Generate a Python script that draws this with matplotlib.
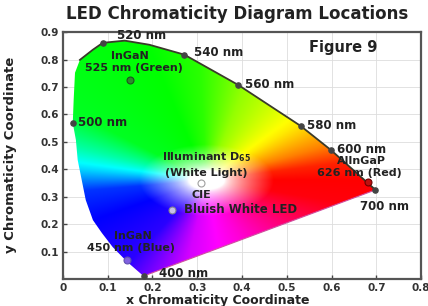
import numpy as np
import matplotlib
matplotlib.use("Agg")
import matplotlib.pyplot as plt
from matplotlib.colors import hsv_to_rgb
from matplotlib.patches import Polygon

plt.rcParams['font.family'] = ['DejaVu Sans']
plt.rcParams['font.weight'] = 'bold'

# spectral locus as it is drawn in the figure
locus_x = [0.180, 0.144, 0.111, 0.087, 0.067, 0.051, 0.042, 0.033, 0.029, 0.022,
           0.024, 0.027, 0.038, 0.067, 0.089, 0.138, 0.193, 0.271, 0.391, 0.531,
           0.598, 0.698]
locus_y = [0.011, 0.062, 0.117, 0.168, 0.215, 0.288, 0.361, 0.434, 0.507, 0.569,
           0.653, 0.752, 0.799, 0.836, 0.861, 0.869, 0.854, 0.818, 0.708, 0.558,
           0.471, 0.325]

# marked wavelengths
wl_labels = ['400 nm', '500 nm', '520 nm', '540 nm', '560 nm', '580 nm', '600 nm', '700 nm']
wl_x = [0.180, 0.022, 0.089, 0.271, 0.391, 0.531, 0.598, 0.698]
wl_y = [0.011, 0.569, 0.861, 0.818, 0.708, 0.558, 0.471, 0.325]
wl_offsets = [(11.5, 2), (3.6, 0), (10, 5), (7, 1.5), (5, 0), (4.5, 0), (4.5, 0), (-11, -12)]

# LED and white point locations
src_names = ['InGaN 525', 'AlInGaP 626', 'InGaN 450', 'D65', 'Bluish White LED']
src_x = [0.149, 0.682, 0.144, 0.309, 0.244]
src_y = [0.726, 0.354, 0.069, 0.350, 0.252]

xticks = [0, 0.1, 0.2, 0.3, 0.4, 0.5, 0.6, 0.7, 0.8]
xtick_labels = ['0', '0.1', '0.2', '0.3', '0.4', '0.5', '0.6', '0.7', '0.8']
yticks = [0.1, 0.2, 0.3, 0.4, 0.5, 0.6, 0.7, 0.8, 0.9]
ytick_labels = ['0.1', '0.2', '0.3', '0.4', '0.5', '0.6', '0.7', '0.8', '0.9']

fig = plt.figure(figsize=(4.28, 3.06), dpi=100)
ax = fig.add_axes([0.147, 0.088, 0.837, 0.807])
ax.set_xlim(0, 0.8)
ax.set_ylim(0, 0.9)

# colour field: hue by angle around the white point, saturation by distance
wx, wy = 0.32, 0.36
gx, gy = np.meshgrid(np.linspace(0, 0.8, 480), np.linspace(0, 0.9, 540))
ang = np.degrees(np.arctan2(gy - wy, gx - wx)) % 360
ang_pts = [0, 12, 25, 45, 76, 92, 105, 140, 158, 172, 188, 210, 240, 262, 290, 320, 345, 360]
hue_pts = [0, 8, 30, 55, 85, 110, 120, 128, 160, 190, 228, 240, 250, 290, 310, 335, 357, 360]
hue = (np.interp(ang, ang_pts, hue_pts) % 360) / 360
r = np.hypot((gx - wx) * 1.0, (gy - wy) * 1.15)
sat = np.clip((r - 0.04) / 0.11, 0, 1) ** 0.75
rgb = hsv_to_rgb(np.dstack([hue, sat, np.ones_like(sat)]))

shape = Polygon(np.column_stack([locus_x, locus_y]), closed=True,
                facecolor='none', edgecolor='none')
ax.add_patch(shape)
img = ax.imshow(rgb, extent=[0, 0.8, 0, 0.9], origin='lower', aspect='auto',
                interpolation='bilinear', zorder=1)
img.set_clip_path(shape)

# dark edge along the upper part of the locus
ax.plot(locus_x[12:], locus_y[12:], color='#3a3a2a', lw=1.3, zorder=2)
ax.plot([locus_x[-1], locus_x[0]], [locus_y[-1], locus_y[0]], color='#d050a0', lw=0.8, zorder=2)

# wavelength markers
ax.scatter(wl_x, wl_y, s=14, color='#444444', zorder=3)
for lab, x, y, off in zip(wl_labels, wl_x, wl_y, wl_offsets):
    ax.annotate(lab, (x, y), xytext=off, textcoords='offset points',
                ha='left', va='center', fontsize=8.5, color='#222222', zorder=4)

# sources
src_face = ['#2e8b2e', '#c01010', '#8060e0', 'white', '#c8c0e8']
src_edge = ['#205020', '#700000', '#6050b0', '#a0a0a0', '#808090']
for x, y, fc, ec in zip(src_x, src_y, src_face, src_edge):
    ax.plot(x, y, 'o', ms=5, mfc=fc, mec=ec, mew=0.8, zorder=3)

kw = dict(fontsize=8, color='#222222', zorder=4, ha='center', va='center')
ax.text(0.149, 0.812, 'InGaN', **kw)
ax.text(0.158, 0.768, '525 nm (Green)', **kw)
ax.text(0.667, 0.432, 'AlInGaP', **kw)
ax.text(0.663, 0.386, '626 nm (Red)', **kw)
ax.text(0.320, 0.445, r'Illuminant D$_{\mathbf{65}}$', **kw)
ax.text(0.320, 0.386, '(White Light)', **kw)
ax.text(0.309, 0.307, 'CIE', **kw)
ax.text(0.271, 0.252, 'Bluish White LED', fontsize=8.5, color='#222222', zorder=4,
        ha='left', va='center')
ax.text(0.156, 0.158, 'InGaN', **kw)
ax.text(0.153, 0.112, '450 nm (Blue)', **kw)
ax.text(0.627, 0.843, 'Figure 9', ha='center', va='center', fontsize=10.5, color='#222222')

ax.set_xticks(xticks)
ax.set_xticklabels(xtick_labels)
ax.set_yticks(yticks)
ax.set_yticklabels(ytick_labels)
ax.tick_params(direction='in', length=3, width=1, colors='#444444', labelsize=7.5,
               labelcolor='#333333', pad=3)
ax.grid(True, color='#dddddd', lw=0.6, zorder=0)
ax.set_axisbelow(True)
for sp in ax.spines.values():
    sp.set_color('#555555')
    sp.set_linewidth(1.6)

fig.text(0.555, 0.953, 'LED Chromaticity Diagram Locations', ha='center', va='center',
         fontsize=12, color='#222222')
fig.text(0.509, 0.019, 'x Chromaticity Coordinate', ha='center', va='center',
         fontsize=9, color='#222222')
fig.text(0.024, 0.493, 'y Chromaticity Coordinate', ha='center', va='center',
         rotation=90, fontsize=9.5, color='#222222')

fig.savefig('out.png', dpi=100)
